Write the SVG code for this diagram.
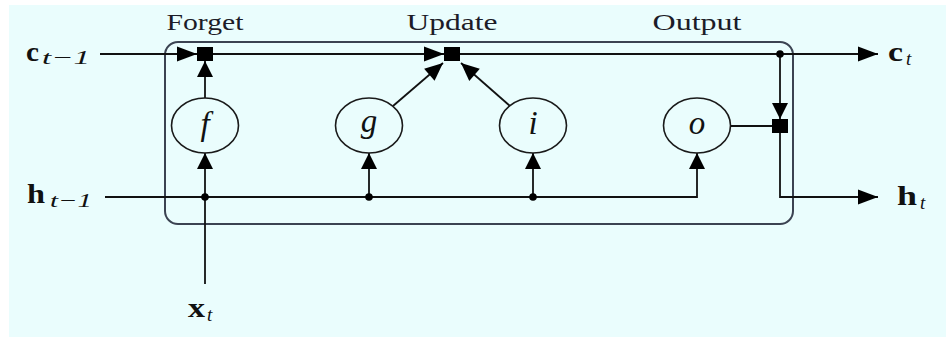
<svg xmlns="http://www.w3.org/2000/svg" width="946" height="337" viewBox="0 0 946 337">
  <style>
    .wire { fill: none; stroke: #111; stroke-width: 1.8; }
    .gate { fill: none; stroke: #1a1a1a; stroke-width: 1.6; }
    .mult { fill: #000; }
    .dot { fill: #000; }
    .cell { fill: none; stroke: #3b4352; stroke-width: 2; }
    .head { font-family: "Liberation Serif", "Times New Roman", serif; font-size: 23px; fill: #1c1c28; }
    .sym { font-family: "Liberation Serif", "Times New Roman", serif; font-size: 33px; font-style: italic; fill: #111; }
    .vec { font-family: "Liberation Serif", "Times New Roman", serif; font-size: 28px; font-weight: bold; fill: #111; }
    .sub { font-family: "Liberation Serif", "Times New Roman", serif; font-size: 19px; font-style: italic; fill: #111; }
  </style>
  <defs>
    <!-- arrowheads: horizontal, vertical and diagonal runs -->
    <marker id="ah" markerUnits="userSpaceOnUse" markerWidth="20" markerHeight="15" refX="20" refY="7.5" orient="auto" overflow="visible">
      <path d="M0,0 L20,7.5 L0,15 Z" fill="#000"/>
    </marker>
    <marker id="av" markerUnits="userSpaceOnUse" markerWidth="16" markerHeight="16" refX="16" refY="8" orient="auto" overflow="visible">
      <path d="M0,0 L16,8 L0,16 Z" fill="#000"/>
    </marker>
    <marker id="ad" markerUnits="userSpaceOnUse" markerWidth="18" markerHeight="16" refX="18" refY="8" orient="auto" overflow="visible">
      <path d="M0,0 L18,8 L0,16 Z" fill="#000"/>
    </marker>
  </defs>

  <!-- page -->
  <rect x="0" y="0" width="946" height="337" fill="#ffffff"/>
  <rect x="9" y="5" width="937" height="332" fill="#eafdfd"/>

  <!-- LSTM cell outline -->
  <rect id="cell" class="cell" x="165" y="42" width="628" height="182" rx="13"/>

  <!-- stage labels -->
  <g id="labels">
    <text class="head" x="205" y="30" text-anchor="middle" textLength="77" lengthAdjust="spacingAndGlyphs">Forget</text>
    <text class="head" x="452" y="30" text-anchor="middle" textLength="91" lengthAdjust="spacingAndGlyphs">Update</text>
    <text class="head" x="697" y="30" text-anchor="middle" textLength="89" lengthAdjust="spacingAndGlyphs">Output</text>
  </g>

  <!-- connectors -->
  <g id="connectors">
    <!-- cell state path -->
    <path class="wire" d="M100,54 H197" marker-end="url(#ah)"/>
    <path class="wire" d="M213,54 H444" marker-end="url(#ah)"/>
    <path class="wire" d="M460,54 H878" marker-end="url(#ah)"/>
    <!-- tap to output gate -->
    <path class="wire" d="M780,54 V119" marker-end="url(#av)"/>
    <path class="wire" d="M730,126 H772"/>
    <path class="wire" d="M780,133 V197 H878" marker-end="url(#ah)"/>
    <!-- hidden state bus -->
    <path class="wire" d="M105,197 H697 V153" marker-end="url(#av)"/>
    <path class="wire" d="M369,197 V153" marker-end="url(#av)"/>
    <path class="wire" d="M533,197 V153" marker-end="url(#av)"/>
    <!-- input -->
    <path class="wire" d="M205,284 V153" marker-end="url(#av)"/>
    <!-- gate outputs -->
    <path class="wire" d="M205,98 V61" marker-end="url(#av)"/>
    <path class="wire" d="M393,106 L443,63" marker-end="url(#ad)"/>
    <path class="wire" d="M510,106 L461,63" marker-end="url(#ad)"/>
    <!-- junctions -->
    <circle class="dot" cx="780" cy="54" r="3.8"/>
    <circle class="dot" cx="205" cy="197" r="3.8"/>
    <circle class="dot" cx="369" cy="197" r="3.8"/>
    <circle class="dot" cx="533" cy="197" r="3.8"/>
  </g>

  <!-- pointwise products -->
  <g id="mul-forget"><rect class="mult" x="197" y="47" width="16" height="14"/></g>
  <g id="mul-update"><rect class="mult" x="444" y="47" width="16" height="14"/></g>
  <g id="mul-output"><rect class="mult" x="772" y="119" width="16" height="14"/></g>

  <!-- gates -->
  <g id="gate-f">
    <ellipse class="gate" cx="205" cy="125.5" rx="33.5" ry="27.5"/>
    <text class="sym" x="205" y="135" text-anchor="middle">f</text>
  </g>
  <g id="gate-g">
    <ellipse class="gate" cx="369" cy="125.5" rx="33.5" ry="27.5"/>
    <text class="sym" x="369" y="132" text-anchor="middle">g</text>
  </g>
  <g id="gate-i">
    <ellipse class="gate" cx="533" cy="125.5" rx="33.5" ry="27.5"/>
    <text class="sym" x="533" y="134" text-anchor="middle">i</text>
  </g>
  <g id="gate-o">
    <ellipse class="gate" cx="697" cy="125.5" rx="33.5" ry="27.5"/>
    <text class="sym" x="697" y="134" text-anchor="middle">o</text>
  </g>

  <!-- inputs and outputs -->
  <g id="c-prev">
    <text class="vec" x="26" y="61" textLength="13" lengthAdjust="spacingAndGlyphs">c</text>
    <text class="sub" x="42" y="64" textLength="48" lengthAdjust="spacingAndGlyphs">t−1</text>
  </g>
  <g id="h-prev">
    <text class="vec" x="27" y="203" textLength="18" lengthAdjust="spacingAndGlyphs">h</text>
    <text class="sub" x="50" y="207" textLength="42" lengthAdjust="spacingAndGlyphs">t−1</text>
  </g>
  <g id="x-in">
    <text class="vec" x="188" y="317" textLength="17" lengthAdjust="spacingAndGlyphs">x</text>
    <text class="sub" x="207" y="321">t</text>
  </g>
  <g id="c-out">
    <text class="vec" x="888" y="61" textLength="15" lengthAdjust="spacingAndGlyphs">c</text>
    <text class="sub" x="906" y="65">t</text>
  </g>
  <g id="h-out">
    <text class="vec" x="897" y="205" textLength="20" lengthAdjust="spacingAndGlyphs">h</text>
    <text class="sub" x="920" y="209">t</text>
  </g>
</svg>
